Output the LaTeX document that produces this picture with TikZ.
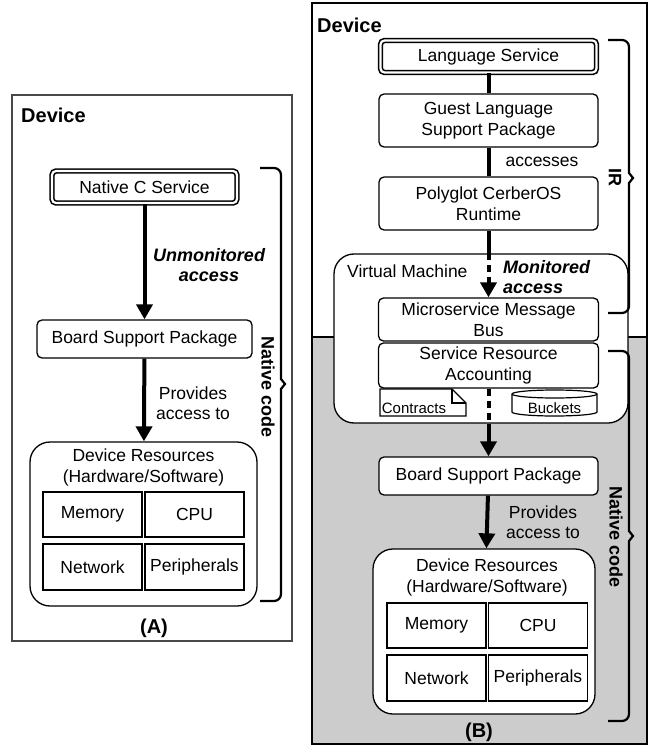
\documentclass[tikz,border=0pt]{standalone}
\usepackage{fontspec}
\setmainfont{Liberation Sans}
\usetikzlibrary{arrows.meta}
\definecolor{bggray}{RGB}{204,204,204}
\definecolor{frameA}{RGB}{72,72,72}

\begin{document}
\begin{tikzpicture}
        [x=1pt,y=-1pt,
         every node/.style={font=\fontsize{17.5}{20.5}\selectfont,align=center,inner sep=0pt},
         box/.style={draw,fill=white,rounded corners=5pt,line width=1.3pt},
         dbox/.style={draw,fill=white,rounded corners=4pt,double,line width=1.6pt,double distance=2.2pt},
         cell/.style={draw,fill=white,line width=1.2pt,minimum width=99pt,minimum height=45pt},
         groupbox/.style={draw,fill=white,rounded corners=20pt,line width=1.3pt},
         titlelab/.style={font=\fontsize{20}{24}\selectfont\bfseries},
         boldlab/.style={font=\fontsize{18}{20}\selectfont\bfseries},
         monlab/.style={font=\fontsize{18}{20}\selectfont\bfseries\itshape},
         smalllab/.style={font=\fontsize{15}{18}\selectfont},
         thickline/.style={line width=4pt},
         arr/.style={line width=4pt,-{Triangle[length=15pt,width=16pt]}},
         dotline/.style={line width=4pt,dash pattern=on 7pt off 5pt},
         bracepath/.style={line width=2.2pt}]
        \useasboundingbox (0,0) rectangle (652,746);

        % (A) native C service
        \draw[line width=2.5pt,draw=frameA] (12,95) rectangle (292,641);
        \node[titlelab,anchor=west] (devA) at (21,115) {Device};
        \node[dbox,minimum width=185pt,minimum height=32pt] (ncs) at (144.5,187) {Native C Service};
        \node[box,minimum width=215pt,minimum height=38pt] (bspA) at (144.5,339) {Board Support Package};
        \node[groupbox,minimum width=227pt,minimum height=164pt] (resA) at (143.5,524) {};
        \node (resAt) at (143.5,467.5) {Device Resources\\(Hardware/Software)};
        \node[cell] (memA) at (92.5,514.5) {Memory};
        \node[cell] (cpuA) at (194.5,514.5) {CPU};
        \node[cell,minimum height=46pt] (netA) at (92.5,567) {Network};
        \node[cell,minimum height=46pt] (perA) at (194.5,567) {Peripherals};
        \draw[arr] (ncs) -- (bspA);
        \draw[arr] (bspA) -- (resA);
        \node[monlab] (unmon) at (209,265) {Unmonitored\\access};
        \node (provA) at (193,403) {Provides\\access to};
        \draw[bracepath] (260,168) [rounded corners=7pt] -- (281,168) -- (281,330) [sharp corners]
          -- (281,379) -- (285,384) -- (281,389) [rounded corners=7pt] -- (281,601) -- (260,601);
        \node[boldlab,rotate=-90] (natA) at (268,387) {Native code};
        \node[titlelab] (capA) at (154,628) {(A)};

        % (B) polyglot service
        \fill[bggray] (312,337) rectangle (647,744);
        \draw[line width=1.5pt] (312,337) -- (647,337);
        \draw[line width=2.5pt] (312,3) rectangle (647,744);
        \node[titlelab,anchor=west] (devB) at (317,25) {Device};
        \node[dbox,minimum width=216pt,minimum height=32pt] (ls) at (488.5,56.5) {Language Service};
        \node[box,minimum width=219pt,minimum height=53pt] (glsp) at (488.5,120.5) {Guest Language\\Support Package};
        \node[box,minimum width=219pt,minimum height=53pt] (pcr) at (488.5,203.5) {Polyglot CerberOS\\Runtime};
        \node[groupbox,minimum width=294pt,minimum height=169pt] (vm) at (481,338.5) {};
        \node[anchor=west] (vmt) at (347,271) {Virtual Machine};
        \node[box,minimum width=220pt,minimum height=43pt] (mmb) at (488.5,319.5) {Microservice Message\\Bus};
        \node[box,minimum width=220pt,minimum height=45pt] (sra) at (488.5,365.5) {Service Resource\\Accounting};
        % contracts and buckets
        \draw[line width=1.2pt,fill=white] (380,389) -- (452,389) -- (466,403) -- (466,416) -- (380,416) -- cycle;
        \draw[line width=1.2pt] (452,389) -- (452,403) -- (466,403);
        \node[smalllab] (con) at (414,408) {Contracts};
        \draw[line width=1.2pt,fill=white] (512,394) -- (512,412)
          arc[start angle=180,end angle=360,x radius=42.5pt,y radius=4pt] -- (597,394)
          arc[start angle=0,end angle=180,x radius=42.5pt,y radius=4pt] -- cycle;
        \draw[line width=1.2pt] (512,394) arc[start angle=180,end angle=360,x radius=42.5pt,y radius=4pt];
        \node[smalllab] (buc) at (554.5,408) {Buckets};
        \node[box,minimum width=219pt,minimum height=38pt] (bspB) at (488.5,476) {Board Support Package};
        \node[groupbox,minimum width=222pt,minimum height=165pt] (resB) at (484,631.5) {};
        \node (resBt) at (487,577.5) {Device Resources\\(Hardware/Software)};
        \node[cell] (memB) at (436.5,625.5) {Memory};
        \node[cell] (cpuB) at (538,625.5) {CPU};
        \node[cell,minimum height=46pt] (netB) at (436.5,678) {Network};
        \node[cell,minimum height=46pt] (perB) at (538,678) {Peripherals};
        \coordinate (vmtop) at (pcr.south |- vm.north);
        \coordinate (vmbot) at (sra.south |- vm.south);
        \foreach \from/\to in {ls/glsp,glsp/pcr,pcr/vmtop}
          \draw[thickline] (\from) -- (\to);
        \draw[dotline,arr] (vmtop) -- (mmb);
        \draw[dotline] (sra) -- (vmbot);
        \draw[arr] (vmbot) -- (bspB);
        \draw[arr] (bspB) -- (resB);
        \node (acc) at (542,162) {accesses};
        \node[monlab,anchor=west,align=left] (mon) at (503,277) {Monitored\\access};
        \node (provB) at (543,522) {Provides\\access to};
        \draw[bracepath] (608,40) [rounded corners=7pt] -- (629,40) -- (629,120) [sharp corners]
          -- (629,173) -- (633,178) -- (629,183) [rounded corners=7pt] -- (629,313) -- (608,313);
        \node[boldlab,rotate=-90] (ir) at (615,177) {IR};
        \draw[bracepath] (608,351) [rounded corners=7pt] -- (629,351) -- (629,450) [sharp corners]
          -- (629,531) -- (633,536) -- (629,541) [rounded corners=7pt] -- (629,721) -- (608,721);
        \node[boldlab,rotate=-90] (natB) at (616,537) {Native code};
        \node[titlelab] (capB) at (479,732) {(B)};
      \end{tikzpicture}
\end{document}
